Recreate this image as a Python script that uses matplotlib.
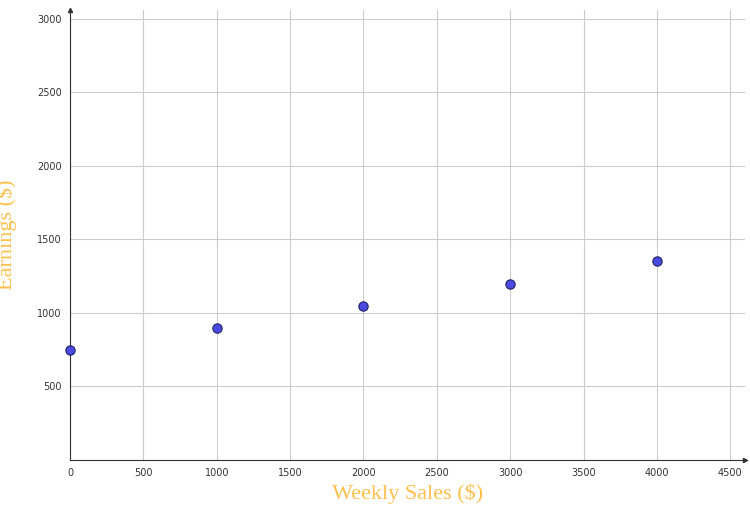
import matplotlib
matplotlib.use("Agg")
import matplotlib.pyplot as plt

sales = [0, 1000, 2000, 3000, 4000]
earnings = [750, 900, 1050, 1200, 1350]
xticks = [0, 500, 1000, 1500, 2000, 2500, 3000, 3500, 4000, 4500]
yticks = [500, 1000, 1500, 2000, 2500, 3000]

fig = plt.figure(figsize=(7.5, 5.12), dpi=100)
ax = fig.add_axes([70/750, 52/512, 675/750, 450/512])
ax.set_xlim(0, 4600)
ax.set_ylim(0, 3060)
ax.set_xticks(xticks)
ax.set_yticks(yticks)
ax.grid(True, color="#cccccc", linewidth=0.8)
ax.set_axisbelow(True)
for s in ["top", "right"]:
    ax.spines[s].set_visible(False)
ax.spines["left"].set_color("#333333")
ax.spines["bottom"].set_color("#333333")
ax.tick_params(labelsize=7, colors="#333333", length=0, pad=6)
ax.plot(1, 0, ">", transform=ax.transAxes, color="#333333", ms=3, clip_on=False)
ax.plot(0, 1, "^", transform=ax.transAxes, color="#333333", ms=3, clip_on=False)
ax.scatter(sales, earnings, s=45, color="#4a4ae0", edgecolor="#222266", linewidth=0.8, zorder=3, clip_on=False)
ax.set_xlabel("Weekly Sales ($)", family="Liberation Serif", fontsize=16, color="#FFC04D", labelpad=4)
ax.set_ylabel("Earnings ($)", family="Liberation Serif", fontsize=16, color="#FFC04D", labelpad=14)
fig.savefig("out.png", dpi=100)
